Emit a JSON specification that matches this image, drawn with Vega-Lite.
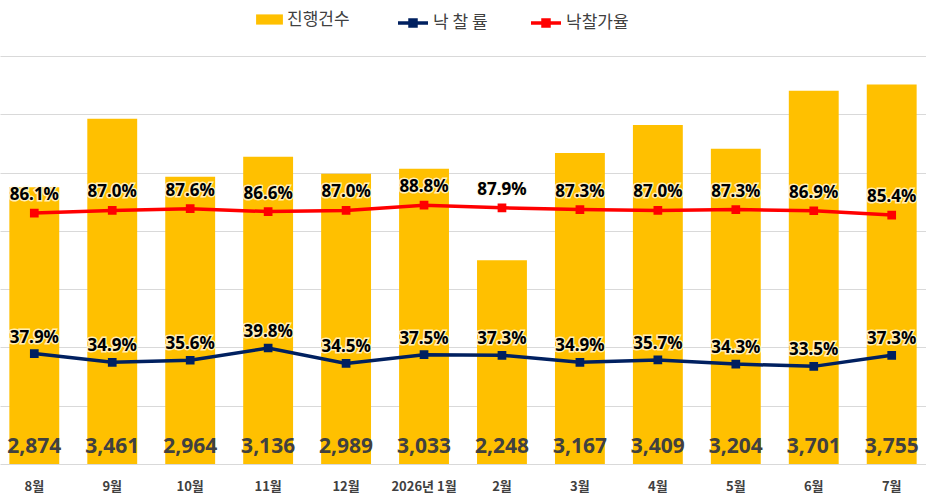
{
  "$schema": "https://vega.github.io/schema/vega-lite/v6.json",
  "width": 926,
  "height": 408,
  "autosize": {"type": "none"},
  "padding": {"left": 0, "top": 56, "right": 0, "bottom": 36},
  "background": "white",
  "config": {
    "view": {"stroke": null},
    "font": "Noto Sans CJK KR",
    "axis": {"domain": false, "ticks": false}
  },
  "data": {
    "values": [
      {"month": "8월", "cnt": 2874, "rate": 0.379, "price": 0.861},
      {"month": "9월", "cnt": 3461, "rate": 0.349, "price": 0.870},
      {"month": "10월", "cnt": 2964, "rate": 0.356, "price": 0.876},
      {"month": "11월", "cnt": 3136, "rate": 0.398, "price": 0.866},
      {"month": "12월", "cnt": 2989, "rate": 0.345, "price": 0.870},
      {"month": "2026년 1월", "cnt": 3033, "rate": 0.375, "price": 0.888},
      {"month": "2월", "cnt": 2248, "rate": 0.373, "price": 0.879},
      {"month": "3월", "cnt": 3167, "rate": 0.349, "price": 0.873},
      {"month": "4월", "cnt": 3409, "rate": 0.357, "price": 0.870},
      {"month": "5월", "cnt": 3204, "rate": 0.343, "price": 0.873},
      {"month": "6월", "cnt": 3701, "rate": 0.335, "price": 0.869},
      {"month": "7월", "cnt": 3755, "rate": 0.373, "price": 0.854}
    ]
  },
  "encoding": {
    "x": {
      "field": "month",
      "type": "ordinal",
      "sort": null,
      "scale": {"paddingInner": 0.36, "paddingOuter": 0.12},
      "axis": {
        "title": null,
        "labelAngle": 0,
        "labelFont": "Noto Sans CJK KR",
        "labelFontSize": 13,
        "labelFontWeight": "bold",
        "labelColor": "#404040",
        "labelPadding": 16
      }
    }
  },
  "layer": [
    {
      "layer": [
        {
          "mark": {"type": "bar", "color": "#FFC000"},
          "encoding": {
            "y": {
              "field": "cnt",
              "type": "quantitative",
              "scale": {"domain": [500, 4000], "nice": false, "zero": false},
              "axis": {
                "title": null,
                "labels": false,
                "labelOverlap": false,
                "values": [500, 1000, 1500, 2000, 2500, 3000, 3500, 4000],
                "grid": true,
                "gridColor": "#d9d9d9",
                "gridWidth": 1
              }
            },
            "y2": {"datum": 500},
            "fill": {
              "datum": "진행건수",
              "type": "nominal",
              "scale": {"domain": ["진행건수"], "range": ["#FFC000"]},
              "legend": {
                "title": null,
                "orient": "none",
                "legendX": 256,
                "legendY": -50,
                "symbolType": "M-1,-0.38H1V0.38H-1Z",
                "symbolSize": 720,
                "symbolStrokeWidth": 0,
                "labelOffset": 4,
                "labelFontSize": 17,
                "labelColor": "#404040",
                "labelFont": "Noto Sans CJK KR"
              }
            }
          }
        },
        {
          "mark": {
            "type": "text",
            "font": "Noto Sans",
            "fontSize": 21,
            "fontWeight": "bold",
            "color": "#404040",
            "baseline": "middle",
            "dy": -17
          },
          "encoding": {
            "y": {"datum": 500},
            "text": {"field": "cnt", "type": "quantitative", "format": ","}
          }
        }
      ]
    },
    {
      "layer": [
        {
          "mark": {"type": "line", "strokeWidth": 3.5, "point": {"shape": "square", "size": 45, "filled": true}},
          "encoding": {
            "y": {
              "field": "price",
              "type": "quantitative",
              "scale": {"domain": [0, 1.4], "nice": false},
              "axis": null
            },
            "stroke": {
              "datum": "낙찰가율",
              "type": "nominal",
              "scale": {"domain": ["낙 찰 률", "낙찰가율"], "range": ["#002060", "#FF0000"]},
              "legend": {
                "title": null,
                "orient": "none",
                "direction": "horizontal",
                "legendX": 396,
                "legendY": -50,
                "columnPadding": 36,
                "symbolType": "M-1,0H1M-0.2,-0.2H0.2V0.2H-0.2Z",
                "symbolSize": 900,
                "symbolStrokeWidth": 3.5,
                "labelOffset": 3,
                "labelFontSize": 17,
                "labelColor": "#404040",
                "labelFont": "Noto Sans CJK KR"
              }
            },
            "color": {"value": "#FF0000"}
          }
        },
        {
          "mark": {"type": "line", "strokeWidth": 3.5, "point": {"shape": "square", "size": 45, "filled": true}},
          "encoding": {
            "y": {"field": "rate", "type": "quantitative"},
            "stroke": {"datum": "낙 찰 률", "type": "nominal"},
            "color": {"value": "#002060"}
          }
        },
        {
          "mark": {
            "type": "text",
            "font": "Noto Sans",
            "fontSize": 17,
            "fontWeight": "bold",
            "stroke": "#FFFBE8",
            "strokeWidth": 3,
            "strokeOpacity": 0.8,
            "baseline": "middle",
            "dy": -18
          },
          "encoding": {
            "y": {"field": "price", "type": "quantitative"},
            "text": {"field": "price", "type": "quantitative", "format": ".1%"}
          }
        },
        {
          "mark": {
            "type": "text",
            "font": "Noto Sans",
            "fontSize": 17,
            "fontWeight": "bold",
            "color": "#000000",
            "baseline": "middle",
            "dy": -18
          },
          "encoding": {
            "y": {"field": "price", "type": "quantitative"},
            "text": {"field": "price", "type": "quantitative", "format": ".1%"}
          }
        },
        {
          "mark": {
            "type": "text",
            "font": "Noto Sans",
            "fontSize": 17,
            "fontWeight": "bold",
            "stroke": "#FFFBE8",
            "strokeWidth": 3,
            "strokeOpacity": 0.8,
            "baseline": "middle",
            "dy": -16
          },
          "encoding": {
            "y": {"field": "rate", "type": "quantitative"},
            "text": {"field": "rate", "type": "quantitative", "format": ".1%"}
          }
        },
        {
          "mark": {
            "type": "text",
            "font": "Noto Sans",
            "fontSize": 17,
            "fontWeight": "bold",
            "color": "#000000",
            "baseline": "middle",
            "dy": -16
          },
          "encoding": {
            "y": {"field": "rate", "type": "quantitative"},
            "text": {"field": "rate", "type": "quantitative", "format": ".1%"}
          }
        }
      ]
    }
  ],
  "resolve": {"scale": {"y": "independent"}}
}
